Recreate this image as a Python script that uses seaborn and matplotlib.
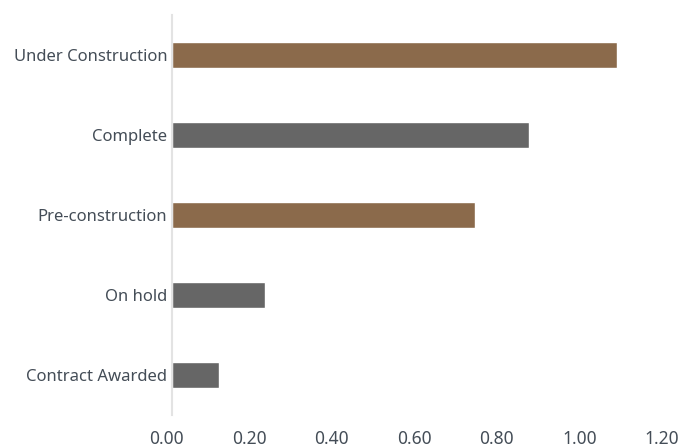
import matplotlib
matplotlib.use("Agg")
import matplotlib.pyplot as plt
import matplotlib.transforms as mtransforms
import seaborn as sns
import pandas as pd

categories = ["Under Construction", "Complete", "Pre-construction", "On hold", "Contract Awarded"]
values = [1.08, 0.865, 0.735, 0.226, 0.115]
bar_colors = ["#8B6A4B", "#666666", "#8B6A4B", "#666666", "#666666"]
x_ticks = [0.0, 0.2, 0.4, 0.6, 0.8, 1.0, 1.2]
x_tick_labels = ["0.00", "0.20", "0.40", "0.60", "0.80", "1.00", "1.20"]

sns.set_style("white")
plt.rcParams["font.family"] = ["Noto Sans", "DejaVu Sans"]

df = pd.DataFrame({"category": categories, "value": values})

fig = plt.figure(figsize=(6.85, 4.47), dpi=100)
ax = fig.add_axes([171.5 / 685, 32 / 447, 495.5 / 685, 400 / 447])

sns.barplot(data=df, x="value", y="category", hue="category",
            palette=dict(zip(categories, bar_colors)), orient="h",
            width=0.325, legend=False, ax=ax, saturation=1)

ax.set_xlim(0, 1.2)
ax.set_ylim(4.5, -0.5)
ax.set_xticks(x_ticks)
ax.set_xticklabels(x_tick_labels)
ax.set_xlabel("")
ax.set_ylabel("")
for s in ["top", "right", "bottom"]:
    ax.spines[s].set_visible(False)
ax.spines["left"].set_color("#e3e3e3")
ax.spines["left"].set_linewidth(1.5)
ax.tick_params(axis="x", length=0, pad=11, labelsize=12.5, labelcolor="#444d57")
ax.tick_params(axis="y", length=0, pad=3, labelsize=12, labelcolor="#444d57")
ax.grid(False)

offset = mtransforms.ScaledTranslation(-5 / 100, 0, fig.dpi_scale_trans)
for lbl in ax.get_xticklabels():
    lbl.set_transform(lbl.get_transform() + offset)

fig.savefig("out.png", dpi=100)
